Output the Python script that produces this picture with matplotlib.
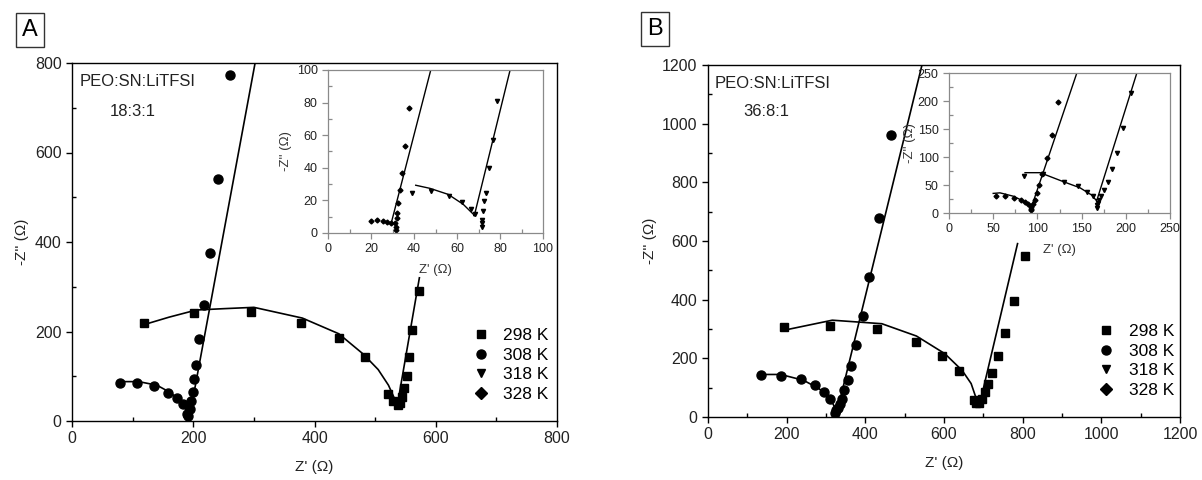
import matplotlib
matplotlib.use('Agg')
import matplotlib.pyplot as plt
from matplotlib.ticker import MultipleLocator
from matplotlib.lines import Line2D

plt.rcParams['font.family'] = ['Liberation Sans', 'DejaVu Sans']

# ---------------- datos panel A (18:3:1) ----------------
a298_x = [118, 202, 295, 378, 440, 484, 522, 530, 538, 541, 544, 548, 552, 556, 561, 573]
a298_y = [219, 241, 244, 219, 186, 144, 61, 45, 35, 40, 53, 74, 101, 143, 204, 290]
a298_fx = [118, 160, 205, 250, 300, 380, 440, 480, 505, 522, 532, 537, 573]
a298_fy = [215, 232, 248, 251, 254, 230, 195, 150, 115, 80, 50, 38, 320]

a308_x = [79, 108, 136, 159, 173, 183, 190, 192, 194, 197, 200, 202, 205, 210, 218, 227, 241, 260]
a308_y = [84, 84, 78, 63, 51, 37, 15, 11, 26, 45, 65, 93, 126, 184, 260, 376, 540, 774]
a308_fx = [79, 110, 140, 163, 178, 188, 194, 302]
a308_fy = [88, 88, 80, 63, 45, 25, 10, 800]

# inset A
a328_x = [20, 22.8, 25.6, 27.3, 29.2, 31.1, 31.6, 31.6, 32, 32.2, 32.7, 33.5, 34.6, 35.8, 37.8]
a328_y = [7.3, 8.0, 7.4, 6.7, 6.0, 6.3, 3.9, 1.8, 9.2, 12.5, 18.2, 26.4, 37, 53.6, 76.5]
a328_fx = [28, 29.3, 47.8]
a328_fy = [6.5, 5.5, 100]

a318_x = [38.9, 47.8, 56.1, 62.5, 66.4, 68.4, 71.5, 71.5, 71.8, 72.2, 72.7, 73.5, 74.9, 76.6, 78.6]
a318_y = [24.7, 25.8, 22.9, 18.8, 14.7, 11.7, 3.9, 6.0, 8.0, 13.5, 19.6, 24.7, 40, 57, 81]
a318_fx = [40.8, 47.4, 55.9, 62.9, 67.6, 68.0, 84.7]
a318_fy = [29.3, 27.4, 23.7, 17.6, 11.5, 10.4, 100]

# ---------------- datos panel B (36:8:1) ----------------
b298_x = [194, 311, 430, 528, 596, 639, 675, 682, 690, 697, 704, 712, 723, 738, 756, 777, 805]
b298_y = [307, 311, 300, 257, 207, 157, 57, 47, 47, 63, 85, 114, 150, 207, 287, 394, 548]
b298_fx = [194, 316, 442, 530, 602, 646, 669, 685, 690, 787]
b298_fy = [296, 330, 318, 276, 216, 159, 114, 51, 40, 591]

b308_x = [136, 185, 236, 272, 296, 309, 323, 326, 330, 335, 340, 347, 355, 364, 377, 393, 410, 434, 464]
b308_y = [144, 141, 129, 108, 85, 63, 15, 23, 32, 45, 63, 93, 127, 174, 245, 343, 478, 677, 963]
b308_fx = [136, 185, 243, 282, 311, 328, 544]
b308_fy = [145, 145, 125, 97, 63, 17, 1200]

# inset B
b328_x = [53.2, 63.3, 73.5, 81.1, 86, 89.7, 92.4, 92.8, 93, 95.4, 97.3, 99.2, 101.8, 104.8, 111.2, 116.2, 123]
b328_y = [31, 31, 27.4, 23.2, 19, 15.5, 11.3, 5.4, 7, 15.5, 23.2, 35, 50, 69.6, 98.8, 138.7, 198.8]
b328_fx = [50, 57.7, 72.7, 86, 91.6, 92.4, 144.4]
b328_fy = [35, 36, 30, 20, 11.3, 6.5, 249]

b318_x = [84.8, 106.7, 130.5, 146.3, 155.8, 163.3, 167, 167, 168.2, 170, 172, 175.3, 179.5, 184, 189.7, 196.5, 205.5]
b318_y = [66.7, 69.6, 56, 48, 38, 31, 14, 9, 17, 23, 30, 41, 55, 78, 108, 152, 215]
b318_fx = [86, 103, 129.3, 148.2, 161.4, 166.3, 167, 212.3]
b318_fy = [72, 72, 56, 45, 32, 23, 21.4, 249]

temps = ['298 K', '308 K', '318 K', '328 K']
marks = ['s', 'o', 'v', 'D']

W, H = 1202., 480.
fig = plt.figure(figsize=[W / 100, H / 100], dpi=100)


def rect(l, r, t, b):
    return (l / W, 1 - b / H, (r - l) / W, (b - t) / H)


def estilo(ax, major, minor, fs, col='black', lw=1.0):
    ax.xaxis.set_major_locator(MultipleLocator(major))
    ax.yaxis.set_major_locator(MultipleLocator(major))
    ax.xaxis.set_minor_locator(MultipleLocator(minor))
    ax.yaxis.set_minor_locator(MultipleLocator(minor))
    ax.tick_params(which='major', direction='out', length=4, width=lw, labelsize=fs, colors=col, labelcolor='#222222')
    ax.tick_params(which='minor', direction='in', length=3, width=lw, colors=col)
    for s in ax.spines.values():
        s.set_linewidth(lw)
        s.set_color(col)


# ---------- panel A ----------
ax = fig.add_axes(rect(72, 557, 63, 421))
ax.plot(a298_fx, a298_fy, '-', color='black', linewidth=1.2)
ax.plot(a308_fx, a308_fy, '-', color='black', linewidth=1.2)
ax.plot(a298_x, a298_y, 's', color='black', markersize=6)
ax.plot(a308_x, a308_y, 'o', color='black', markersize=6.5)
ax.set_xlim(0, 800); ax.set_ylim(0, 800)
estilo(ax, 200, 100, 11.5)
ax.set_xlabel("Z' (Ω)", fontsize=11, color='#222222', labelpad=10)
ax.set_ylabel("-Z'' (Ω)", fontsize=11, color='#222222', labelpad=4)
ax.text(0.015, 0.97, 'PEO:SN:LiTFSI', transform=ax.transAxes, fontsize=12, va='top', color='#222222')
ax.text(0.078, 0.885, '18:3:1', transform=ax.transAxes, fontsize=12, va='top', color='#222222')
hs = [Line2D([], [], marker=m, linestyle='none', color='black', markersize=6.5 if m == 'o' else 6) for m in marks]
ax.legend(hs, temps, loc='lower left', bbox_to_anchor=(0.8, 0.02), frameon=False, fontsize=12.5,
          handlelength=1.0, handletextpad=0.8, labelspacing=0.25, borderpad=0.2)

ins = fig.add_axes(rect(328, 543, 70, 233))
ins.plot(a328_fx, a328_fy, '-', color='black', linewidth=1.0)
ins.plot(a318_fx, a318_fy, '-', color='black', linewidth=1.0)
ins.plot(a328_x, a328_y, 'D', color='black', markersize=2.5)
ins.plot(a318_x, a318_y, 'v', color='black', markersize=3)
ins.set_xlim(0, 100); ins.set_ylim(0, 100)
estilo(ins, 20, 10, 9, col='#8a8a8a', lw=0.9)
ins.set_xlabel("Z' (Ω)", fontsize=9.5, color='#333333', labelpad=6)
ins.set_ylabel("-Z'' (Ω)", fontsize=9.5, color='#333333', labelpad=3)

fig.text(30 / W, 1 - 30 / H, 'A', fontsize=17, ha='center', va='center',
         bbox=dict(boxstyle='square,pad=0.25', facecolor='white', edgecolor='#333333', linewidth=1.0))

# ---------- panel B ----------
ax = fig.add_axes(rect(708, 1180, 65, 417))
ax.plot(b298_fx, b298_fy, '-', color='black', linewidth=1.2)
ax.plot(b308_fx, b308_fy, '-', color='black', linewidth=1.2)
ax.plot(b298_x, b298_y, 's', color='black', markersize=6)
ax.plot(b308_x, b308_y, 'o', color='black', markersize=6.5)
ax.set_xlim(0, 1200); ax.set_ylim(0, 1200)
estilo(ax, 200, 100, 11.5)
ax.set_xlabel("Z' (Ω)", fontsize=11, color='#222222', labelpad=10)
ax.set_ylabel("-Z'' (Ω)", fontsize=11, color='#222222', labelpad=4)
ax.text(0.015, 0.97, 'PEO:SN:LiTFSI', transform=ax.transAxes, fontsize=12, va='top', color='#222222')
ax.text(0.075, 0.89, '36:8:1', transform=ax.transAxes, fontsize=12, va='top', color='#222222')
hs = [Line2D([], [], marker=m, linestyle='none', color='black', markersize=6.5 if m == 'o' else 6) for m in marks]
ax.legend(hs, temps, loc='lower left', bbox_to_anchor=(0.8, 0.02), frameon=False, fontsize=12.5,
          handlelength=1.0, handletextpad=0.8, labelspacing=0.25, borderpad=0.2)

ins = fig.add_axes(rect(949, 1170, 73, 213))
ins.plot(b328_fx, b328_fy, '-', color='black', linewidth=1.0)
ins.plot(b318_fx, b318_fy, '-', color='black', linewidth=1.0)
ins.plot(b328_x, b328_y, 'D', color='black', markersize=2.5)
ins.plot(b318_x, b318_y, 'v', color='black', markersize=3)
ins.set_xlim(0, 250); ins.set_ylim(0, 250)
estilo(ins, 50, 25, 9, col='#8a8a8a', lw=0.9)
ins.set_xlabel("Z' (Ω)", fontsize=9.5, color='#333333', labelpad=6)
ins.set_ylabel("-Z'' (Ω)", fontsize=9.5, color='#333333', labelpad=1)

fig.text(655 / W, 1 - 29 / H, 'B', fontsize=17, ha='center', va='center',
         bbox=dict(boxstyle='square,pad=0.25', facecolor='white', edgecolor='#333333', linewidth=1.0))

fig.savefig('out.png', dpi=100)
